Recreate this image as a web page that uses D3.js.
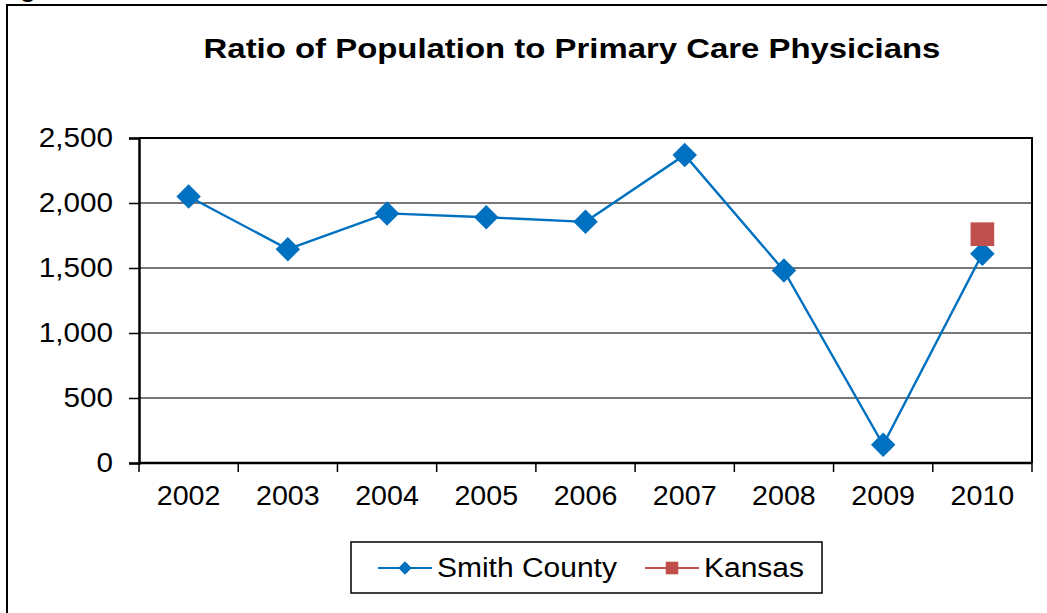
<!DOCTYPE html>
<html>
<head>
<meta charset="utf-8">
<script src="https://cdn.jsdelivr.net/npm/d3@7"></script>
<style>
  body { margin: 0; background: #fff; }
  text { font-family: "Liberation Sans", Arial, sans-serif; }
</style>
</head>
<body>
<div id="chart"></div>
<script>
// chart data
var years = ["2002", "2003", "2004", "2005", "2006", "2007", "2008", "2009", "2010"];
var smithCounty = [2050, 1645, 1920, 1890, 1855, 2370, 1480, 140, 1610];
var kansasYears = ["2010"];
var kansas = [1760];
var yTicks = [0, 500, 1000, 1500, 2000, 2500];
var seriesNames = ["Smith County", "Kansas"];

var width = 1047, height = 613;

var svg = d3.select("#chart").append("svg")
    .attr("width", width)
    .attr("height", height);

// the source picture is a bit wider than tall, so stretch text to match
function stretch(sel, k) {
    sel.each(function() {
        var w = this.getComputedTextLength();
        d3.select(this)
            .attr("textLength", w * k)
            .attr("lengthAdjust", "spacingAndGlyphs");
    });
}

// outer frame (cut off on right and bottom)
svg.append("rect")
    .attr("x", 7).attr("y", 5)
    .attr("width", 1100).attr("height", 700)
    .attr("fill", "none")
    .attr("stroke", "#000")
    .attr("stroke-width", 2);

svg.append("text")
    .attr("x", 20).attr("y", -3)
    .attr("font-size", 26)
    .attr("font-weight", "bold")
    .text("g");

var x = d3.scaleBand()
    .domain(years)
    .range([139, 1032])
    .padding(0);

var y = d3.scaleLinear()
    .domain([0, 2500])
    .range([463, 138]);

// title
svg.append("text")
    .attr("x", 572).attr("y", 58)
    .attr("text-anchor", "middle")
    .attr("font-size", 28)
    .attr("font-weight", "bold")
    .text("Ratio of Population to Primary Care Physicians")
    .call(stretch, 1.175);

// gridlines
svg.append("g").selectAll("line").data(yTicks.filter(function(d) { return d > 0 && d < 2500; }))
    .enter().append("line")
    .attr("x1", 139).attr("x2", 1032)
    .attr("y1", function(d) { return y(d); })
    .attr("y2", function(d) { return y(d); })
    .attr("stroke", "#4a4a4a")
    .attr("stroke-width", 1.5);

// plot border top / right
svg.append("path")
    .attr("d", "M139," + y(2500) + "H1032V" + y(0))
    .attr("fill", "none")
    .attr("stroke", "#000")
    .attr("stroke-width", 2);

// y axis
var yAxis = d3.axisLeft(y)
    .tickValues(yTicks)
    .tickSize(10)
    .tickPadding(16)
    .tickFormat(d3.format(","));
var yg = svg.append("g")
    .attr("transform", "translate(139,0)")
    .call(yAxis);
yg.select(".domain").attr("stroke-width", 2.5);
yg.selectAll(".tick line").attr("stroke-width", 1.5);
yg.selectAll("text")
    .attr("font-size", 27)
    .attr("fill", "#000")
    .style("font-family", "Liberation Sans, Arial, sans-serif")
    .call(stretch, 1.1);

// x axis with ticks at band edges
var xg = svg.append("g")
    .attr("transform", "translate(0,463)");
xg.append("line")
    .attr("x1", 139).attr("x2", 1032)
    .attr("stroke", "#000").attr("stroke-width", 2.5);
xg.selectAll(".xtick").data(years.concat(["end"]))
    .enter().append("line")
    .attr("class", "xtick")
    .attr("x1", function(d, i) { return i < years.length ? x(d) : x.range()[1]; })
    .attr("x2", function(d, i) { return i < years.length ? x(d) : x.range()[1]; })
    .attr("y1", 0).attr("y2", 9)
    .attr("stroke", "#000").attr("stroke-width", 1.5);
xg.selectAll(".xlabel").data(years)
    .enter().append("text")
    .attr("class", "xlabel")
    .attr("x", function(d) { return x(d) + x.bandwidth() / 2; })
    .attr("y", 42)
    .attr("text-anchor", "middle")
    .attr("font-size", 27)
    .text(function(d) { return d; })
    .call(stretch, 1.06);

var blue = "#0070C0", red = "#C0504D";

// Smith County line
var line = d3.line()
    .x(function(d, i) { return x(years[i]) + x.bandwidth() / 2; })
    .y(function(d) { return y(d); });
svg.append("path")
    .datum(smithCounty)
    .attr("d", line)
    .attr("fill", "none")
    .attr("stroke", blue)
    .attr("stroke-width", 2.4);

var diamond = d3.symbol().type(d3.symbolSquare).size(300);
svg.append("g").selectAll("path").data(smithCounty)
    .enter().append("path")
    .attr("d", diamond)
    .attr("fill", blue)
    .attr("transform", function(d, i) {
        return "translate(" + (x(years[i]) + x.bandwidth() / 2) + "," + y(d) + ") rotate(45)";
    });

// Kansas point
var square = d3.symbol().type(d3.symbolSquare).size(560);
svg.append("g").selectAll("path").data(kansas)
    .enter().append("path")
    .attr("d", square)
    .attr("fill", red)
    .attr("transform", function(d, i) {
        return "translate(" + (x(kansasYears[i]) + x.bandwidth() / 2) + "," + y(d) + ")";
    });

// legend
var legend = svg.append("g");
legend.append("rect")
    .attr("x", 351).attr("y", 542)
    .attr("width", 471).attr("height", 51)
    .attr("fill", "#fff")
    .attr("stroke", "#000")
    .attr("stroke-width", 1.5);

var legendItems = [
    {name: seriesNames[0], color: blue, x: 378, sym: d3.symbol().type(d3.symbolSquare).size(90), rot: 45},
    {name: seriesNames[1], color: red, x: 645, sym: d3.symbol().type(d3.symbolSquare).size(160), rot: 0}
];
var li = legend.selectAll(".li").data(legendItems)
    .enter().append("g")
    .attr("class", "li")
    .attr("transform", function(d) { return "translate(" + d.x + ",568)"; });
li.append("line")
    .attr("x1", 0).attr("x2", 54)
    .attr("stroke", function(d) { return d.color; })
    .attr("stroke-width", 2.2);
li.append("path")
    .attr("d", function(d) { return d.sym(); })
    .attr("fill", function(d) { return d.color; })
    .attr("transform", function(d) { return "translate(27,0) rotate(" + d.rot + ")"; });
li.append("text")
    .attr("x", 59).attr("y", 9)
    .attr("font-size", 27)
    .text(function(d) { return d.name; })
    .call(stretch, 1.11);
</script>
</body>
</html>
